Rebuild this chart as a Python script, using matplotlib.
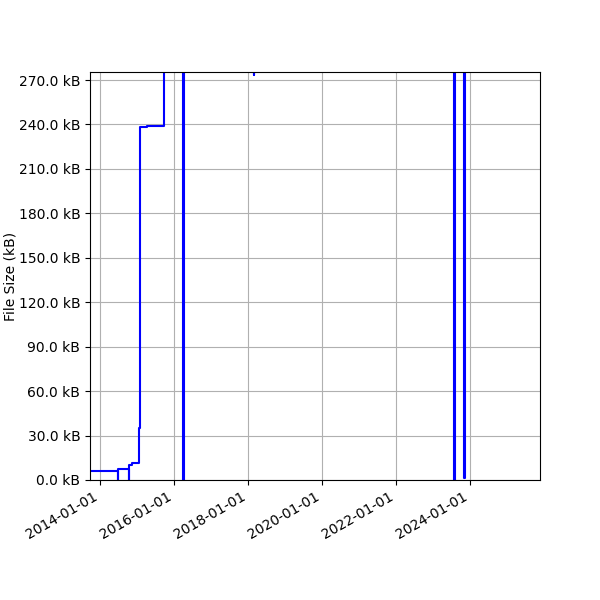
import numpy as np
import pandas as pd
import matplotlib
matplotlib.use("Agg")
import matplotlib.pyplot as plt
import matplotlib.dates as mdates
from matplotlib.ticker import FuncFormatter, MultipleLocator

# Dates of size changes and file size (kB) after each change
datas = [
    "2013-09-24", "2014-06-25", "2014-06-28", "2014-10-14", "2014-10-17",
    "2014-11-09", "2015-01-22", "2015-01-28", "2015-04-12", "2015-09-22",
    "2016-03-28", "2016-04-08", "2018-02-27", "2018-03-02", "2023-07-30",
    "2023-08-02", "2023-11-05", "2023-11-08", "2025-11-20",
]
tamanhos_kb = [
    6.0, 0.0, 7.6, 0.0, 10.0,
    11.7, 35.0, 238.5, 239.0, 320.0,
    0.0, 320.0, 273.5, 320.0, 0.0,
    320.0, 1.6, 320.0, 320.0,
]

datas = pd.to_datetime(datas)

fig, ax = plt.subplots(figsize=(6, 6), dpi=100)
ax.plot(datas, tamanhos_kb, color="blue", drawstyle="steps-post", linewidth=1.5)

ax.set_xlim(pd.Timestamp("2013-09-24"), pd.Timestamp("2025-11-20"))
ax.set_ylim(0, 275.4)

ax.yaxis.set_major_locator(MultipleLocator(30))
ax.yaxis.set_major_formatter(FuncFormatter(lambda v, p: f"{v:.1f} kB"))
ax.xaxis.set_major_locator(mdates.YearLocator(2))
ax.xaxis.set_major_formatter(mdates.DateFormatter("%Y-%m-%d"))

ax.set_ylabel("File Size (kB)", labelpad=1)
ax.grid(True)

fig.autofmt_xdate()
fig.subplots_adjust(left=0.15, right=0.9, top=0.88, bottom=0.2)

plt.savefig("out.png")
